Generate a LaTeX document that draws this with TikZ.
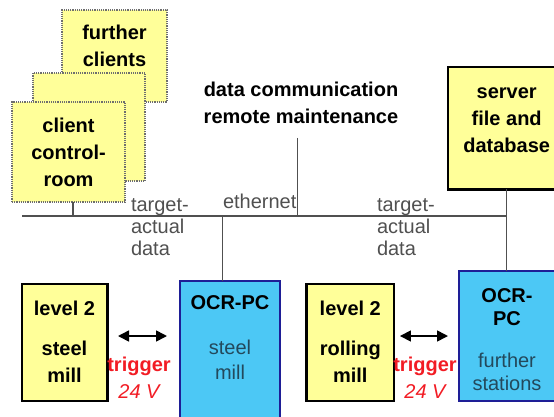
\documentclass[tikz,border=0pt]{standalone}
\usepackage{fontspec}
\setmainfont{Liberation Sans}
\usetikzlibrary{positioning,arrows.meta}

\definecolor{boxyellow}{HTML}{FFFF99}
\definecolor{ocrblue}{HTML}{4CC8F5}
\definecolor{ocrframe}{HTML}{1E1E96}
\definecolor{ocrtext}{HTML}{23495C}
\definecolor{trigred}{HTML}{F21C24}
\definecolor{busgray}{HTML}{505050}
\definecolor{dotgray}{HTML}{6E6E6E}

\newcommand{\ocrsub}[1]{{\mdseries\color{ocrtext}#1}}

\begin{document}
\begin{tikzpicture}[x=1pt,y=-1pt,inner sep=0pt,outer sep=0pt,
	client/.style={draw=dotgray,densely dotted,line width=1.2pt,fill=boxyellow},
	lvl/.style={draw=black,line width=2.4pt,fill=boxyellow},
	ocr/.style={draw=ocrframe,line width=2pt,fill=ocrblue},
	boxtext/.style={font=\fontsize{20}{27}\selectfont\bfseries,align=center},
	datalbl/.style={font=\fontsize{20}{22}\selectfont,align=left,text=busgray},
	trig/.style={font=\fontsize{20}{27}\selectfont\bfseries,align=center,text=trigred},
	bus/.style={draw=busgray,line width=1.4pt},
	link/.style={<->,>={Triangle[length=11pt,width=11pt]},line width=1.6pt}]

	\clip (0,0) rectangle (554,416);

	\node[client,minimum width=105pt,minimum height=92pt] (cback) at (114.5,56) {};
	\node[client,minimum width=112pt,minimum height=108pt] (cmid) at (89,127) {};
	\node[client,minimum width=113pt,minimum height=100pt] (cfront) at (68.5,152) {};
	\node[boxtext,below=14.6pt of cback.north] (further) {further\\clients};
	\node[boxtext,below=15.6pt of cfront.north] (control) {client\\control-\\room};

	\node[boxtext] (dc) at (301,103) {data communication\\remote maintenance};

	\node[lvl,minimum width=118pt,minimum height=122.6pt] (server) at (506.7,128) {};
	\node[boxtext,below=20.9pt of server.north] (servertxt) {server\\file and\\database};

	\node[lvl,minimum width=85.6pt,minimum height=116.7pt] (lvlsteel) at (64.5,342.4) {};
	\node[boxtext,below=16.6pt of lvlsteel.north] {level 2\\[13pt]steel\\mill};
	\node[ocr,minimum width=100pt,minimum height=137pt] (ocrsteel) at (230,349.5) {};
	\node[boxtext,font=\fontsize{20}{25}\selectfont\bfseries,below=14.7pt of ocrsteel.north]
		{OCR-PC\\[20pt]\ocrsub{steel}\\\ocrsub{mill}};

	\node[lvl,minimum width=87.3pt,minimum height=116.7pt] (lvlrolling) at (350.3,342.4) {};
	\node[boxtext,below=16.6pt of lvlrolling.north] {level 2\\[13pt]rolling\\mill};
	\node[ocr,minimum width=96pt,minimum height=129.7pt] (ocrfurther) at (507,335.9) {};
	\node[boxtext,font=\fontsize{20}{23}\selectfont\bfseries,below=17.7pt of ocrfurther.north]
		{OCR-\\PC\\[19pt]\ocrsub{further}\\\ocrsub{stations}};

	\node[trig] (trig1) at (139,377.4) {trigger\\{\mdseries\itshape 24 V}};
	\node[trig] (trig2) at (425,377.4) {trigger\\{\mdseries\itshape 24 V}};

	\node[datalbl,anchor=north west] (tad1) at (131,199) {target-\\actual\\data};
	\node[datalbl,anchor=north west] (tad2) at (377,199) {target-\\actual\\data};
	\node[datalbl,anchor=base west] (eth) at (223,208) {ethernet};

	\coordinate (busL) at (22,216);
	\draw[bus] (busL) -- (busL -| server.south);
	\draw[bus] (server.south) -- (server.south |- ocrfurther.north);
	\draw[bus] ([xshift=4.5pt]cfront.south) -- ([xshift=4.5pt]cfront.south |- busL);
	\draw[bus] ([xshift=-7.3pt]ocrsteel.north) -- ([xshift=-7.3pt]ocrsteel.north |- busL);
	\draw[bus] ([xshift=-3.3pt,yshift=-14pt]dc.south) -- ([xshift=-3.3pt]dc.south |- busL);

	\draw[link,shorten <=10.7pt,shorten >=13pt]
		([yshift=6.4pt]lvlsteel.east) -- ([yshift=6.4pt]lvlsteel.east -| ocrsteel.west);
	\draw[link,shorten <=6pt,shorten >=11pt]
		([yshift=6.4pt]lvlrolling.east) -- ([yshift=6.4pt]lvlrolling.east -| ocrfurther.west);

\end{tikzpicture}
\end{document}
